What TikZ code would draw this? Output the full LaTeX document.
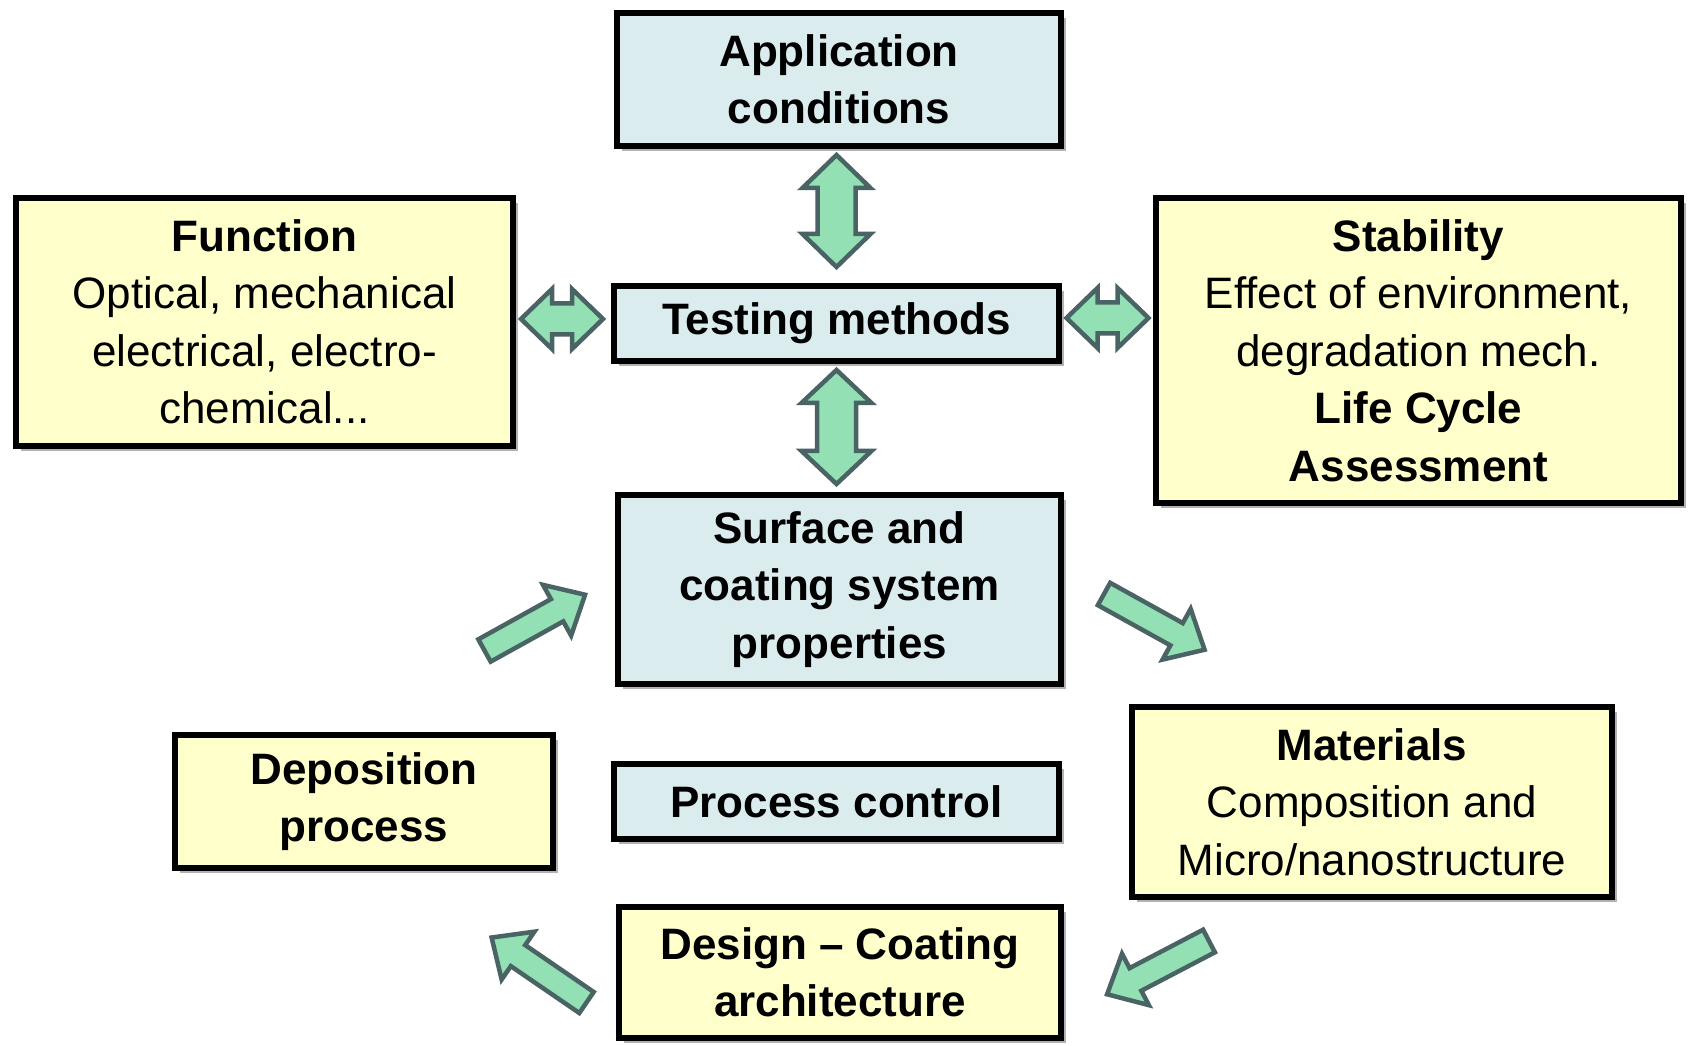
\documentclass[tikz,border=0pt]{standalone}
\usepackage{fontspec}
\setmainfont{Liberation Sans}
\usetikzlibrary{shadows}
\definecolor{boxblue}{HTML}{DBECEF}
\definecolor{boxyellow}{HTML}{FFFFCC}
\definecolor{arrowfill}{HTML}{93E0B5}
\definecolor{arrowline}{HTML}{4A6364}

\begin{document}
\begin{tikzpicture}[x=1pt,y=1pt,
    box/.style={
% The shape:
rectangle,
% The border:
line width=6pt, draw=black,
% The text:
align=center, inner sep=2pt,
font=\fontsize{44}{57.5}\selectfont,
% The shadow:
drop shadow={shadow xshift=5pt,shadow yshift=-5pt,fill=black,opacity=0.3},
},
    bluebox/.style={box, fill=boxblue},
    yellowbox/.style={box, fill=boxyellow},
    link/.style={
% The border:
line width=4.5pt, draw=arrowline, fill=arrowfill,
},
% half length, shaft half width, head half width, head length:
    pics/twoway/.style n args={4}{code={
  \draw[link] (-#1,0) -- (-#1+#4,#3) -- (-#1+#4,#2) -- (#1-#4,#2)
    -- (#1-#4,#3) -- (#1,0) -- (#1-#4,-#3) -- (#1-#4,-#2)
    -- (-#1+#4,-#2) -- (-#1+#4,-#3) -- cycle;
}},
% length, shaft half width, head half width, head length:
    pics/oneway/.style n args={4}{code={
  \draw[link] (0,-#2) -- (#1-#4,-#2) -- (#1-#4,-#3) -- (#1,0)
    -- (#1-#4,#3) -- (#1-#4,#2) -- (0,#2) -- cycle;
}},
]
  \useasboundingbox (0,0) rectangle (1692,1045);

  \node[bluebox, minimum width=444, minimum height=133]
    (app) at (839, 965.5) {\textbf{Application}\\\textbf{conditions}};
  \node[yellowbox, minimum width=497, minimum height=248]
    (func) at (264.5, 723) {\textbf{Function}\\Optical, mechanical\\electrical, electro-\\chemical...};
  \node[bluebox, minimum width=445, minimum height=75]
    (test) at (836.5, 721.5) {\textbf{Testing methods}};
  \node[yellowbox, minimum width=525, minimum height=305]
    (stab) at (1418.5, 694.5) {\textbf{Stability}\\Effect of environment,\\degradation mech.\\\textbf{Life Cycle}\\\textbf{Assessment}};
  \node[bluebox, minimum width=443, minimum height=189]
    (surf) at (839.5, 455.5) {\textbf{Surface and}\\\textbf{coating system}\\\textbf{properties}};
  \node[yellowbox, minimum width=378, minimum height=133]
    (depo) at (364, 243.5) {\textbf{Deposition}\\\textbf{process}};
  \node[bluebox, minimum width=445, minimum height=75]
    (proc) at (836.5, 243.5) {\textbf{Process control}};
  \node[yellowbox, minimum width=480, minimum height=190]
    (mat) at (1372, 243) {\textbf{Materials}\\Composition and\\Micro/nanostructure};
  \node[yellowbox, minimum width=442, minimum height=131]
    (design) at (840, 72.5) {\textbf{Design -- Coating}\\\textbf{architecture}};

  % links to testing methods
  \pic[rotate=90] (apptest)  at (836.5, 834) {twoway={56}{19}{34}{33}};
  \pic[rotate=90] (testsurf) at (836.5, 618) {twoway={57}{19.5}{35}{33}};
  \pic (functest) at (562, 726)    {twoway={41}{15.5}{30}{31}};
  \pic (teststab) at (1107.5, 727) {twoway={41}{15.5}{30}{31}};

  % the design cycle
  \pic[rotate=29]    (deposurf)   at (484.5, 394.5) {oneway={115}{12.75}{29}{32}};
  \pic[rotate=-29]   (surfmat)    at (1104, 451)    {oneway={115}{12.75}{29}{32}};
  \pic[rotate=207.6] (matdesign)  at (1209, 104)    {oneway={115}{12.75}{29}{32}};
  \pic[rotate=145.6] (designdepo) at (586.5, 42.5)  {oneway={115}{12.75}{29}{32}};

\end{tikzpicture}
\end{document}
